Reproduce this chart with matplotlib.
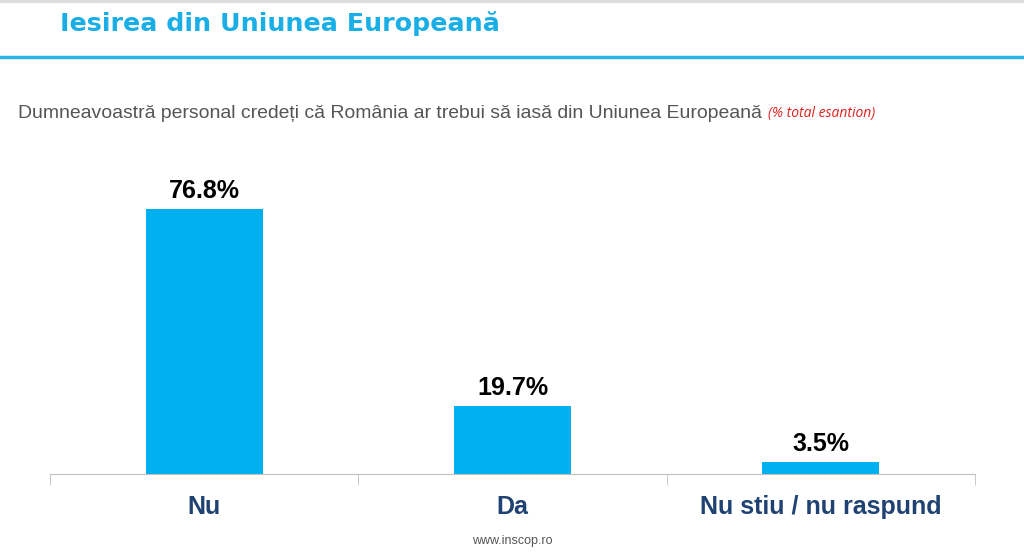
import matplotlib.pyplot as plt
import numpy as np

categories = ['Nu', 'Da', 'Nu stiu / nu raspund']
values = [76.8, 19.7, 3.5]
value_labels = ['76.8%', '19.7%', '3.5%']

title = 'Iesirea din Uniunea Europeană'
question = 'Dumneavoastră personal credeți că România ar trebui să iasă din Uniunea Europeană'
note = '(% total esantion)'
footer = 'www.inscop.ro'

W, H = 1024, 555
fig = plt.figure(figsize=(W / 100, H / 100), dpi=100)

# header
fig.text(60 / W, 1 - 23 / H, title, fontsize=18.3, fontweight='heavy',
         color='#19afe6', family='DejaVu Sans', va='center', ha='left')
fig.add_artist(plt.Line2D([0, 1], [1 - 57 / H, 1 - 57 / H], color='#29b6e6', lw=2.5))
fig.add_artist(plt.Line2D([0, 1], [1 - 1 / H, 1 - 1 / H], color='#dddddd', lw=3))

fig.text(18 / W, 1 - 113 / H, question, fontsize=13.95, color='#555555',
         family='Liberation Sans', va='center', ha='left')
fig.text(768 / W, 1 - 113 / H, note, fontsize=10, color='#e0201b',
         style='italic', family='Open Sans', va='center', ha='left')

# chart
ax = fig.add_axes([50 / W, (H - 474) / H, 925 / W, 345 / H])
x = np.arange(len(categories))
ax.bar(x, values, width=0.38, color='#00b0f0')
ax.set_xlim(-0.5, len(categories) - 0.5)
ax.set_ylim(0, 100)

for xi, v, lab in zip(x, values, value_labels):
    ax.annotate(lab, (xi, v), xytext=(0, 4), textcoords='offset points',
                ha='center', va='bottom', fontsize=18, fontweight='bold',
                family='Liberation Sans', color='black')

for s in ['top', 'right', 'left']:
    ax.spines[s].set_visible(False)
ax.spines['bottom'].set_color('#bfbfbf')
ax.set_yticks([])

# boundary tick marks between categories
ax.set_xticks(np.arange(len(categories) + 1) - 0.5, minor=True)
ax.tick_params(axis='x', which='minor', length=8, color='#bfbfbf')
ax.set_xticks(x)
ax.set_xticklabels(categories, fontsize=18, fontweight='bold',
                   family='Liberation Sans', color='#1f4272')
ax.tick_params(axis='x', which='major', length=0, pad=15)

fig.text(0.5, 1 - 541 / H, footer, fontsize=9, color='#555555',
         family='Liberation Sans', ha='center', va='center')

fig.savefig('out.png', dpi=100)
